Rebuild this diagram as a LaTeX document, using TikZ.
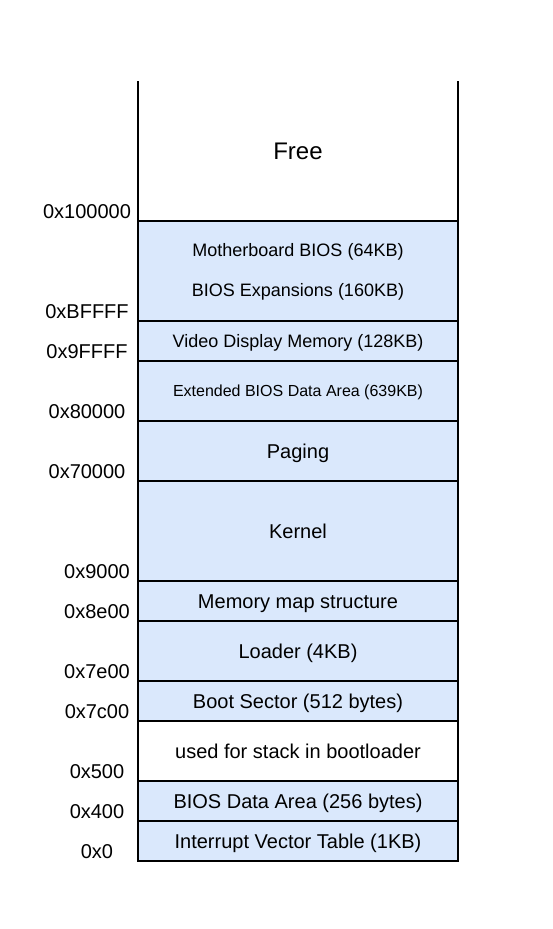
\documentclass[tikz,border=0pt]{standalone}
\usepackage{fontspec}
\setmainfont{Liberation Sans}
\definecolor{memfill}{HTML}{DAE8FC}
\begin{document}
\begin{tikzpicture}[x=1pt,y=-1pt,
  fs/.style={font=\fontsize{#1}{#1}\selectfont,text height=0.716*#1 pt,text depth=0pt},
  region/.style={draw=black,line width=2pt,fill=memfill,minimum width=320pt,
    inner sep=0pt,outer sep=0pt,fs=20},
  plain/.style={region,fill=white},
  addr/.style={inner sep=0pt,fs=20},
  txt/.style={inner sep=0pt,fs=#1}]
\useasboundingbox (0,0) rectangle (552,929);

% free space above 1 MB: open at the top
\node[region,draw=none,fill=none,minimum height=140pt,fs=24] (free) at (298,151) {Free};
\draw[line width=2pt] (free.north west) -- (free.south west);
\draw[line width=2pt] (free.north east) -- (free.south east);

% memory regions, top to bottom
\node[region,minimum height=100pt] (bios) at (298,271) {};
\node[txt=18] (mbios) at (298,250) {Motherboard BIOS (64KB)};
\node[txt=18] (biosx) at (298,290) {BIOS Expansions (160KB)};
\node[region,minimum height=40pt,fs=18] (video) at (298,341) {Video Display Memory (128KB)};
\node[region,minimum height=60pt,fs=16] (ebda) at (298,391) {Extended BIOS Data Area (639KB)};
\node[region,minimum height=60pt] (paging) at (298,451) {Paging};
\node[region,minimum height=100pt] (kernel) at (298,531) {Kernel};
\node[region,minimum height=40pt] (mmap) at (298,601) {Memory map structure};
\node[region,minimum height=60pt] (loader) at (298,651) {Loader (4KB)};
\node[region,minimum height=40pt] (boot) at (298,701) {Boot Sector (512 bytes)};
\node[plain,minimum height=60pt] (stack) at (298,751) {used for stack in bootloader};
\node[region,minimum height=40pt] (bda) at (298,801) {BIOS Data Area (256 bytes)};
\node[region,minimum height=40pt] (ivt) at (298,841) {Interrupt Vector Table (1KB)};

% addresses
\node[addr] (a100000) at (87,211) {0x100000};
\node[addr] (aBFFFF) at (87,311) {0xBFFFF};
\node[addr] (a9FFFF) at (87,351) {0x9FFFF};
\node[addr] (a80000) at (87,411) {0x80000};
\node[addr] (a70000) at (87,471) {0x70000};
\node[addr] (a9000) at (97,571) {0x9000};
\node[addr] (a8e00) at (97,611) {0x8e00};
\node[addr] (a7e00) at (97,671) {0x7e00};
\node[addr] (a7c00) at (97,711) {0x7c00};
\node[addr] (a500) at (97,771) {0x500};
\node[addr] (a400) at (97,811) {0x400};
\node[addr] (a0) at (97,851) {0x0};
\end{tikzpicture}
\end{document}
